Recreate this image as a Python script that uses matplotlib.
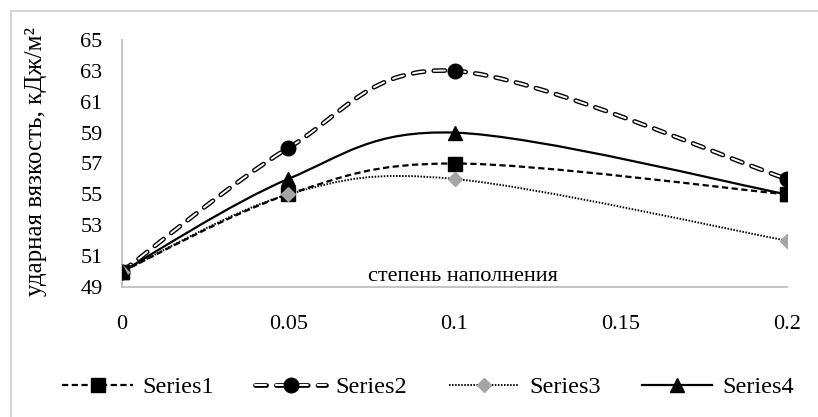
import matplotlib
matplotlib.use("Agg")
from matplotlib import pyplot as plt, patches
from matplotlib.path import Path
from matplotlib.lines import Line2D
import numpy as np

plt.rcParams['font.family'] = ['Liberation Serif', 'DejaVu Serif']
plt.rcParams['lines.scale_dashes'] = False

# filling degree and impact strength values
fill = [0, 0.05, 0.1, 0.2]
series1 = [50, 55, 57, 55]
series2 = [50, 58, 63, 56]
series3 = [50, 55, 56, 52]
series4 = [50, 56, 59, 55]
names = ['Series1', 'Series2', 'Series3', 'Series4']
yticks = [49, 51, 53, 55, 57, 59, 61, 63, 65]
xticks = [0, 0.05, 0.1, 0.15, 0.2]
xtick_labels = ['0', '0.05', '0.1', '0.15', '0.2']


def smooth_path(xs, ys):
    # cubic bezier through the points, catmull-rom style tangents
    pts = np.column_stack([xs, ys]).astype(float)
    ext = np.vstack([pts[0], pts, pts[-1]])
    verts = [pts[0]]
    codes = [Path.MOVETO]
    for i in range(len(pts) - 1):
        p0, p1, p2, p3 = ext[i], ext[i + 1], ext[i + 2], ext[i + 3]
        c1 = p1 + (p2 - p0) / 6.0
        c2 = p2 - (p3 - p1) / 6.0
        verts += [c1, c2, p2]
        codes += [Path.CURVE4] * 3
    return Path(verts, codes)


fig = plt.figure(figsize=(8.18, 4.17), dpi=100)
ax = fig.add_axes([122 / 818, 1 - 287 / 417, 665 / 818, 247 / 417])

# outer chart frame, runs off the right and bottom edges
fig.add_artist(patches.Rectangle((10.5 / 818, -0.2), 1.2, 1.2 - 10.5 / 417,
                                 transform=fig.transFigure, fill=False,
                                 edgecolor='#d0d0d0', linewidth=1.3))

# each series: list of line layers (drawn in order) + marker style
styles = [
    dict(layers=[dict(color='black', ls=(0, (4.5, 2.5)), lw=1.6, cap='butt')],
         marker=dict(marker='s', markersize=10.5, color='black')),
    dict(layers=[dict(color='black', ls=(0, (8, 7)), lw=3.4, cap='round'),
                 dict(color='white', ls=(0, (8, 7)), lw=1.4, cap='round')],
         marker=dict(marker='o', markersize=10.5, color='black')),
    dict(layers=[dict(color='black', ls=(0, (1.1, 1.1)), lw=1.4, cap='butt')],
         marker=dict(marker='D', markersize=7.5, color='#a5a5a5')),
    dict(layers=[dict(color='black', ls='-', lw=1.6, cap='butt')],
         marker=dict(marker='^', markersize=10.5, color='black')),
]

handles = []
for ys, st in zip([series1, series2, series3, series4], styles):
    entry = []
    for ly in st['layers']:
        ax.add_patch(patches.PathPatch(smooth_path(fill, ys), fill=False,
                                       edgecolor=ly['color'], linestyle=ly['ls'],
                                       linewidth=ly['lw'], capstyle=ly['cap']))
        entry.append(Line2D([], [], color=ly['color'], linestyle=ly['ls'],
                            linewidth=ly['lw'], dash_capstyle=ly['cap']))
    mk = st['marker']
    ax.plot(fill, ys, linestyle='none', marker=mk['marker'],
            markersize=mk['markersize'], color=mk['color'], zorder=3)
    entry.append(Line2D([], [], linestyle='none', marker=mk['marker'],
                        markersize=mk['markersize'], color=mk['color']))
    handles.append(tuple(entry))

ax.set_xlim(0, 0.2)
ax.set_ylim(49, 65)
ax.set_xticks(xticks)
ax.set_xticklabels(xtick_labels)
ax.set_yticks(yticks)
ax.tick_params(length=0, labelsize=16, pad=14)
ax.tick_params(axis='x', pad=20)
for side in ['top', 'right']:
    ax.spines[side].set_visible(False)
for side in ['left', 'bottom']:
    ax.spines[side].set_color('#bfbfbf')
    ax.spines[side].set_linewidth(1.3)

ax.text(0.1025, 49.05, 'степень наполнения', fontsize=16, ha='center', va='bottom')
fig.text(36 / 818, 1 - 161 / 417, 'ударная вязкость, кДж/м²', fontsize=18,
         rotation=90, ha='center', va='center')

fig.legend(handles, names, loc='center', bbox_to_anchor=(428 / 818, 1 - 387 / 417),
           ncol=4, frameon=False, prop=dict(family='Liberation Serif', size=17.5),
           handlelength=2.9, handletextpad=0.4, columnspacing=1.7)

fig.savefig('out.png', dpi=100)
